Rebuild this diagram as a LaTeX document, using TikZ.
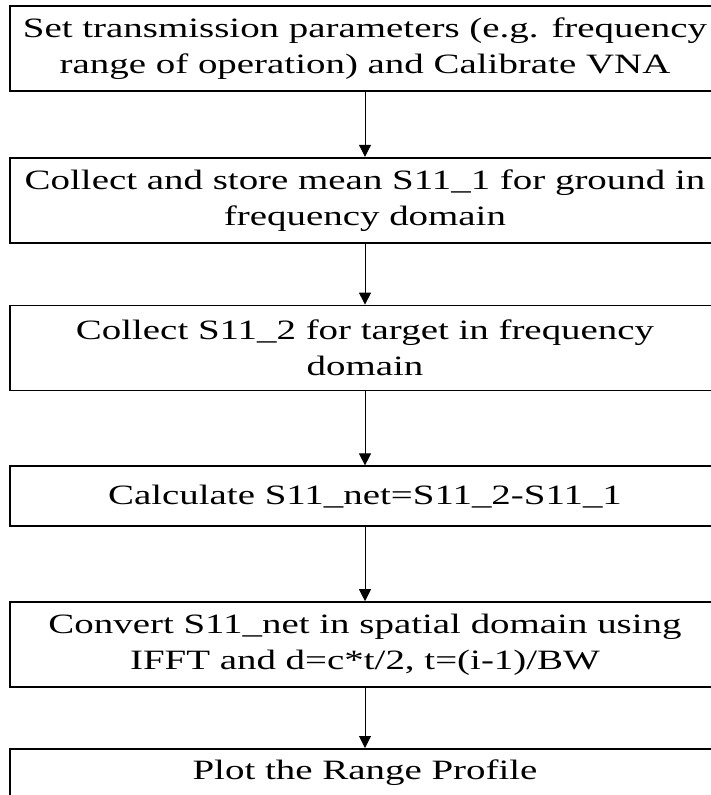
\documentclass[tikz,border=0pt]{standalone}
\usepackage{fontspec}
\setmainfont[FakeStretch=1.39]{Liberation Serif}
\usepackage{tikz}
\usetikzlibrary{positioning, arrows.meta}
\tikzset{
  stepbox/.style={
    draw=black, line width=1.8pt,
    minimum width=710pt, minimum height=85pt,
    align=center, inner sep=0pt,
    font=\fontsize{28}{36}\selectfont,
  },
  stepbox sm/.style={stepbox, minimum height=60pt},
  link/.style={draw=black, line width=1pt},
}

\begin{document}
\begin{tikzpicture}[node distance=65pt, >={Triangle[width=12pt, length=12pt]}]
\useasboundingbox[fill=white] (0,0) rectangle (711pt,-795pt);

\node[stepbox, anchor=north] (setup) at (365pt,-5pt) {Set transmission parameters (e.g. frequency\\range of operation) and Calibrate VNA};
\node[stepbox, below=65pt of setup] (ground) {Collect and store mean S11\_1 for ground in\\frequency domain};
\node[stepbox, below=61pt of ground] (target) {Collect S11\_2 for target in frequency\\domain};
\node[stepbox sm, below=74pt of target] (netcalc) {Calculate S11\_net=S11\_2-S11\_1};
\node[stepbox, below=74pt of netcalc] (convert) {Convert S11\_net in spatial domain using\\IFFT and d=c*t/2, t=(i-1)/BW};
\node[stepbox sm, below=60pt of convert, minimum height=0pt, inner ysep=11pt, text depth=20pt] (plot) {Plot the Range Profile};

\draw[link, ->] (setup) -- (ground);
\draw[link, ->] (ground) -- (target);
\draw[link, ->] (target) -- (netcalc);
\draw[link, ->] (netcalc) -- (convert);
\draw[link, ->] (convert) -- (plot);

\end{tikzpicture}
\end{document}
